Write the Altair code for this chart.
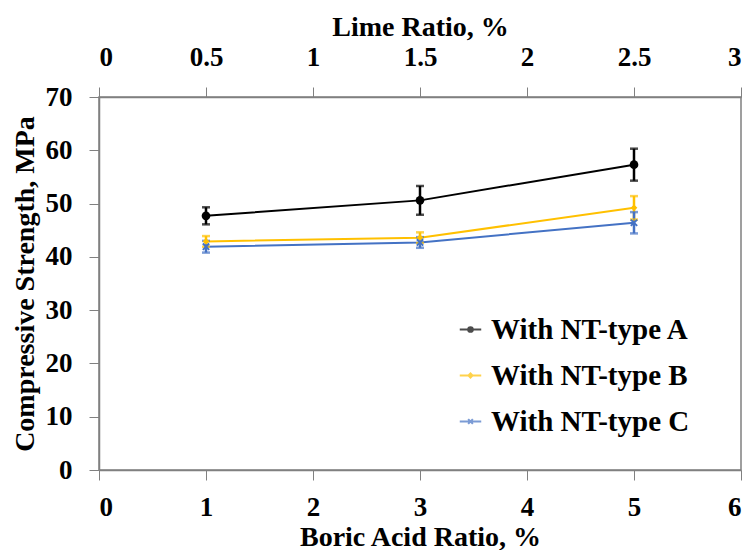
import altair as alt
import pandas as pd

boric = [1, 3, 5]
lime = [0.5, 1.5, 2.5]
series_names = ["With NT-type A", "With NT-type B", "With NT-type C"]
vals_a = [47.7, 50.6, 57.3]
err_a = [1.6, 2.7, 3.0]
vals_b = [42.9, 43.6, 49.2]
err_b = [1.0, 1.0, 2.2]
vals_c = [41.9, 42.7, 46.4]
err_c = [1.1, 1.0, 2.0]

colors = ["#000000", "#FFC000", "#4472C4"]
legend_shapes = [
    "M-1.6,0L-0.35,0M0.35,0L1.6,0M-0.35,0A0.35,0.35 0 1,0 0.35,0A0.35,0.35 0 1,0 -0.35,0Z",
    "M-1.6,0L-0.3,0M0.3,0L1.6,0M-0.3,0L0,-0.3L0.3,0L0,0.3Z",
    "M-1.6,0L1.6,0M-0.35,-0.35L0.35,0.35M-0.35,0.35L0.35,-0.35",
]

rows = []
for name, v, e in zip(series_names, [vals_a, vals_b, vals_c], [err_a, err_b, err_c]):
    for b, l, y, d in zip(boric, lime, v, e):
        rows.append({"series": name, "boric": b, "lime": l, "y": y, "lo": y - d, "hi": y + d})
df = pd.DataFrame(rows)

FONT = "Liberation Serif"
color_scale = alt.Scale(domain=series_names, range=colors)
shape_scale = alt.Scale(domain=series_names, range=legend_shapes)
leg = alt.Legend(title=None, orient="none", legendX=357, legendY=218,
                 labelFont=FONT, labelFontSize=29, labelFontWeight="bold",
                 labelColor="black", symbolSize=180, symbolStrokeWidth=2,
                 rowPadding=16, labelOffset=6, labelLimit=400)
col = alt.Color("series:N", scale=color_scale, legend=leg)

y_axis = alt.Axis(title="Compressive Strength, MPa", values=list(range(0, 71, 10)),
                  grid=False, tickSize=10, labelPadding=17, titlePadding=6, format="~g")
yv = alt.Y("y:Q", scale=alt.Scale(domain=[0, 70]), axis=y_axis)

xb = alt.X("boric:Q", scale=alt.Scale(domain=[0, 6]),
           axis=alt.Axis(title="Boric Acid Ratio, %", values=[0, 1, 2, 3, 4, 5, 6],
                         grid=False, tickSize=10, labelPadding=14, titlePadding=3, format="~g"))

base = alt.Chart(df)

lines = base.mark_line(strokeWidth=2).encode(x=xb, y=yv, color=col)

err_rule = base.mark_rule(strokeWidth=2.5).encode(
    x="boric:Q", y="lo:Q", y2="hi:Q", color=col)
cap_lo = base.mark_tick(thickness=2.5, size=8, orient="horizontal").encode(
    x="boric:Q", y="lo:Q", color=col)
cap_hi = base.mark_tick(thickness=2.5, size=8, orient="horizontal").encode(
    x="boric:Q", y="hi:Q", color=col)

# legend provider (draws nothing in the plot)
legend_layer = base.transform_filter("datum.series == 'none'").mark_point(
    filled=True, opacity=1, strokeWidth=2).encode(
    x="boric:Q", y="y:Q", color=col,
    shape=alt.Shape("series:N", scale=shape_scale, legend=leg),
)

pts_a = base.transform_filter(f"datum.series == '{series_names[0]}'").mark_point(
    shape="circle", filled=True, opacity=1, size=75, color=colors[0]).encode(
    x="boric:Q", y="y:Q")
pts_b = base.transform_filter(f"datum.series == '{series_names[1]}'").mark_point(
    shape="diamond", filled=True, opacity=1, size=45, color=colors[1]).encode(
    x="boric:Q", y="y:Q")
pts_c = base.transform_filter(f"datum.series == '{series_names[2]}'").mark_point(
    shape="M-1,-1L1,1M-1,1L1,-1", filled=False, opacity=1, size=40, strokeWidth=2,
    color=colors[2]).encode(
    x="boric:Q", y="y:Q")

left = alt.layer(lines, err_rule, cap_lo, cap_hi, pts_a, pts_b, pts_c, legend_layer)

top = alt.Chart(df).mark_point(opacity=0).encode(
    x=alt.X("lime:Q", scale=alt.Scale(domain=[0, 3]),
            axis=alt.Axis(title="Lime Ratio, %", orient="top", values=[0, 0.5, 1, 1.5, 2, 2.5, 3],
                          grid=False, tickSize=10, labelPadding=16, titlePadding=2, format="~g")),
    y=yv,
)

chart = alt.layer(left, top).resolve_scale(x="independent").properties(
    width=642, height=373,
    padding={"left": 99, "top": 97, "right": 8, "bottom": 80},
    autosize=alt.AutoSizeParams(type="none"),
    background="white",
).configure_view(
    stroke="#808080", strokeWidth=1.5
).configure_axis(
    labelFont=FONT, labelFontSize=27, labelFontWeight="bold", labelColor="black",
    titleFont=FONT, titleFontSize=28, titleFontWeight="bold", titleColor="black",
    domainColor="#808080", tickColor="#808080", domainWidth=1.5, tickWidth=1,
)

chart.save("out.html", embed_options={"renderer": "svg", "actions": False})
